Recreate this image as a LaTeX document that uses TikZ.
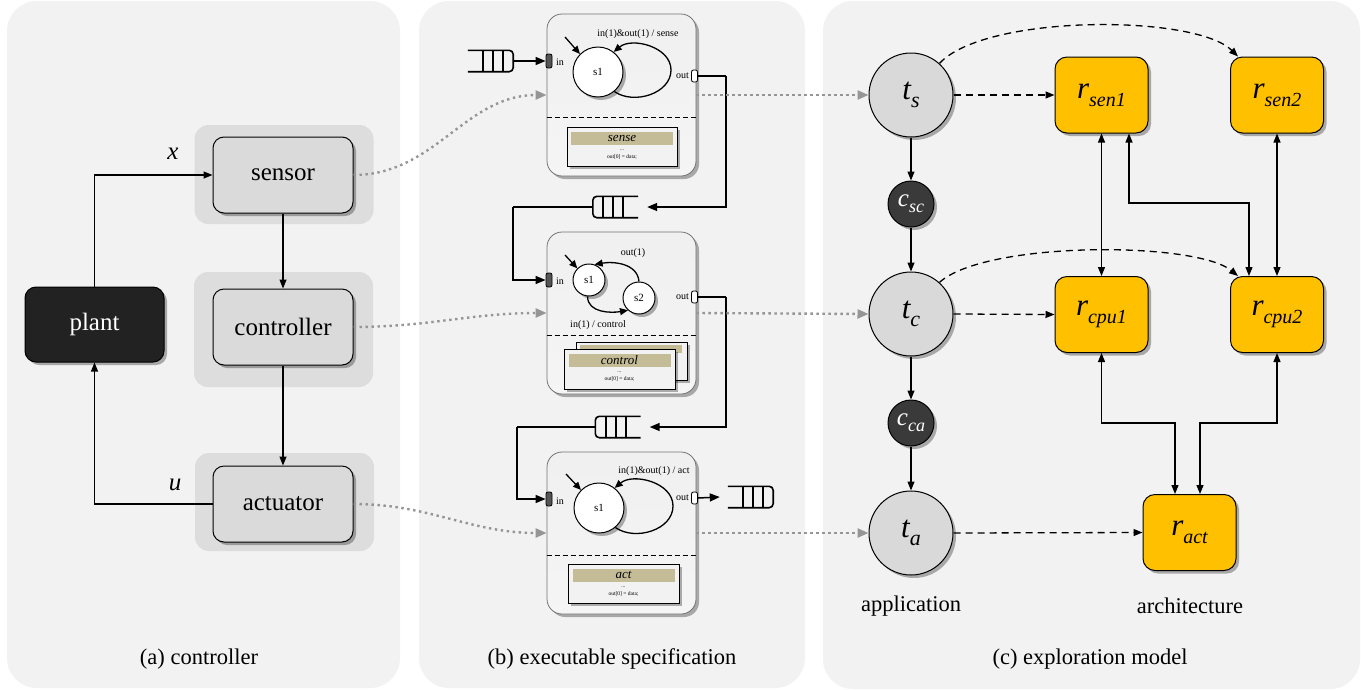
\documentclass[tikz,border=0pt]{standalone}
\usepackage{fontspec}
\setmainfont{Liberation Serif}
\usetikzlibrary{arrows.meta,shadows}
\definecolor{panelbg}{HTML}{F2F2F2}
\definecolor{grpbg}{HTML}{DDDDDD}
\definecolor{boxfill}{HTML}{DADADA}
\definecolor{plantfill}{HTML}{222222}
\definecolor{tfill}{HTML}{D9D9D9}
\definecolor{cfill}{HTML}{3A3A3A}
\definecolor{resfill}{HTML}{FFC000}
\definecolor{hdrtan}{HTML}{C4BC96}
\definecolor{dotgray}{HTML}{959595}
\definecolor{portdark}{HTML}{555555}
\newcommand{\setfs}[1]{\fontsize{#1}{#1}\selectfont}
\newcommand{\symsub}[5]{{\setfs{#3}\itshape #1}\raisebox{-#5}{\setfs{#4}\itshape #2}}
\tikzset{
  shd/.style={drop shadow={shadow xshift=3pt, shadow yshift=-3pt, opacity=.3, fill=black}},
  grp/.style={fill=grpbg, rounded corners=14pt, inner sep=0pt},
  blk/.style={draw=black, line width=1pt, fill=boxfill, rounded corners=11pt, minimum width=140pt, minimum height=76pt, inner sep=0pt, font=\setfs{25}, shd},
  plantbox/.style={blk, fill=plantfill, text=white},
  arr/.style={line width=1.1pt, -{Triangle[length=9pt,width=7pt]}},
  dotarr/.style={draw=dotgray, line width=2.4pt, dash pattern=on 2.4pt off 3.6pt, -{Triangle[length=11pt,width=9pt]}, dotgray},
  smbox/.style={draw=black!55, line width=.8pt, rounded corners=15pt, minimum width=149pt, minimum height=162pt, inner sep=0pt, top color=white!94!black, middle color=white!84!black, bottom color=white!96!black, shd},
  inport/.style={draw=black, line width=.8pt, fill=portdark, rounded corners=2pt, minimum width=6pt, minimum height=14pt, inner sep=0pt},
  outport/.style={draw=black, line width=.8pt, fill=white, rounded corners=2pt, minimum width=6pt, minimum height=12pt, inner sep=0pt},
  smalltxt/.style={font=\setfs{10}, inner sep=0pt},
  stbig/.style={circle, draw=black, line width=1pt, fill=white, minimum size=50pt, inner sep=0pt, font=\setfs{11}, shd},
  stsmall/.style={circle, draw=black, line width=1pt, fill=white, minimum size=32pt, inner sep=0pt, font=\setfs{11}, shd},
  starr/.style={line width=1.3pt, -{Triangle[length=8pt,width=7pt]}},
  qarr/.style={line width=1.5pt, -{Triangle[length=10pt,width=8pt]}},
  codebox/.style={draw=black, line width=1pt, fill=white!95!black, minimum width=110pt, minimum height=39pt, inner sep=0pt, shd},
  hdr/.style={fill=hdrtan, minimum width=102pt, minimum height=13pt, inner sep=0pt, font=\setfs{13}\itshape},
  tinytxt/.style={font=\setfs{5.5}, inner sep=0pt},
  tnode/.style={circle, draw=black, line width=1pt, fill=tfill, minimum size=84pt, inner sep=0pt, shd},
  cnode/.style={circle, draw=black, line width=1pt, fill=cfill, text=white, minimum size=46pt, inner sep=0pt, shd},
  res/.style={draw=black, line width=1pt, fill=resfill, rounded corners=12pt, minimum width=93pt, minimum height=76pt, inner sep=0pt, shd},
  dasharr/.style={line width=1.3pt, dash pattern=on 7pt off 5pt, -{Triangle[length=9pt,width=7pt]}},
  dblarr/.style={line width=1.2pt, {Triangle[length=9pt,width=7pt]}-{Triangle[length=9pt,width=7pt]}},
  captxt/.style={font=\setfs{22.5}, inner sep=0pt},
  qline/.style={line width=1.6pt},
  pics/queueL/.style={code={
    \node[minimum width=45pt, minimum height=21pt, inner sep=0pt] (-b) {};
    \draw[qline, rounded corners=4pt] (-b.north west) -- (-b.north east) -- (-b.south east) -- (-b.south west);
    \draw[qline] ([xshift=15pt]-b.north west) -- ([xshift=15pt]-b.south west);
    \draw[qline] ([xshift=25pt]-b.north west) -- ([xshift=25pt]-b.south west);
    \draw[qline] ([xshift=35pt]-b.north west) -- ([xshift=35pt]-b.south west);
  }},
  pics/queueR/.style={code={
    \node[minimum width=45pt, minimum height=21pt, inner sep=0pt] (-b) {};
    \draw[qline, rounded corners=4pt] (-b.north east) -- (-b.north west) -- (-b.south west) -- (-b.south east);
    \draw[qline] ([xshift=-15pt]-b.north east) -- ([xshift=-15pt]-b.south east);
    \draw[qline] ([xshift=-25pt]-b.north east) -- ([xshift=-25pt]-b.south east);
    \draw[qline] ([xshift=-35pt]-b.north east) -- ([xshift=-35pt]-b.south east);
  }},
}
\begin{document}
\begin{tikzpicture}[x=1pt,y=-1pt]
\path[use as bounding box, fill=white] (0,0) rectangle (1361,689);
% panels
\fill[panelbg, rounded corners=30pt] (7,1) rectangle (400,688);
\fill[panelbg, rounded corners=30pt] (419,1) rectangle (805,688);
\fill[panelbg, rounded corners=30pt] (823,1) rectangle (1360,689);

% ---------- panel (a)
\node[grp, minimum width=179pt, minimum height=99pt] (gsen) at (284,174.5) {};
\node[grp, minimum width=179pt, minimum height=115pt] (gcon) at (283.5,329.5) {};
\node[grp, minimum width=179pt, minimum height=98pt] (gact) at (284.5,502) {};
\node[blk] (sensor) at (283,175) {sensor};
\node[blk] (controller) at (283,327) {controller};
\node[blk] (actuator) at (283,504) {actuator};
\node[plantbox, minimum width=139pt, minimum height=75pt] (plant) at (94.5,324.5) {plant};
\draw[arr] (plant.north) |- (sensor.west);
\draw[arr] (actuator.west) -| (plant.south);
\draw[arr] (sensor.south) -- (controller.north);
\draw[arr] (controller.south) -- (actuator.north);
\node[font=\setfs{25}\itshape, inner sep=0pt] (lx) at (173,154) {x};
\node[font=\setfs{25}\itshape, inner sep=0pt] (lu) at (175,485) {u};
\node[captxt] (capa) at (199,659) {(a) controller};

% ---------- panel (b)
\node[smbox] (smA) at (621.5,95) {};
\node[smbox] (smB) at (621.5,313) {};
\node[smbox] (smC) at (621.5,533) {};
\foreach \b in {smA,smB,smC}{
  \draw[dash pattern=on 5pt off 3pt, line width=1.3pt] ([yshift=-104pt]\b.north west) -- ([yshift=-104pt]\b.north east);
}
% ports
\node[inport] (inA) at (549,61) {};
\node[smalltxt, anchor=west] (inAl) at (556,62) {in};
\node[outport] (outA) at (694.5,76) {};
\node[smalltxt, anchor=east] (outAl) at (689,76) {out};
\node[inport] (inB) at (549,280) {};
\node[smalltxt, anchor=west] (inBl) at (556,281) {in};
\node[outport] (outB) at (694.5,297) {};
\node[smalltxt, anchor=east] (outBl) at (689,297) {out};
\node[inport] (inC) at (549,499) {};
\node[smalltxt, anchor=west] (inCl) at (556,501) {in};
\node[outport] (outC) at (694.5,498) {};
\node[smalltxt, anchor=east] (outCl) at (689,498) {out};

% state machine A
\node[stbig] (sA) at (598,72) {s1};
\coordinate (iA) at (565,37);
\draw[starr] (iA) -- (sA.135);
\coordinate (lpA) at (671,70);
\draw[starr] (sA.-50) to[out=-35,in=-90] (lpA) to[out=90,in=40] (sA.52);
\node[smalltxt] (trA) at (638,34) {in(1)\&out(1) / sense};
\node[codebox] (cbA) at (622,146.5) {};
\node[hdr] (hA) at (622,138) {sense};
\node[tinytxt] (dA) at (622,150) {...};
\node[tinytxt] (oA) at (622,157) {out[0] = data;};

% state machine B
\node[stsmall] (sB1) at (589,280) {s1};
\node[stsmall] (sB2) at (639,298) {s2};
\coordinate (iB) at (565,255);
\draw[starr] (iB) -- (sB1.135);
\draw[starr] (sB2.north) to[out=95,in=10] (sB1.70);
\draw[starr] (sB1.-95) to[out=-90,in=190] (sB2.228);
\node[smalltxt] (trB1) at (633,253) {out(1)};
\node[smalltxt] (trB2) at (598,325) {in(1) / control};
\node[codebox, minimum width=111pt, minimum height=38pt] (cbB2) at (631.5,361) {};
\node[hdr, minimum height=8pt] (hB2) at (631,349) {};
\node[codebox, minimum width=111pt, minimum height=40pt] (cbB) at (619.5,369) {};
\node[hdr] (hB) at (619.5,360) {control};
\node[tinytxt] (dB) at (619.5,372) {...};
\node[tinytxt] (oB) at (619.5,379) {out[0] = data;};

% state machine C
\node[stbig] (sC) at (599,508) {s1};
\coordinate (iC) at (566,474);
\draw[starr] (iC) -- (sC.135);
\coordinate (lpC) at (673,506);
\draw[starr] (sC.-50) to[out=-35,in=-90] (lpC) to[out=90,in=40] (sC.52);
\node[smalltxt] (trC) at (654,471) {in(1)\&out(1) / act};
\node[codebox, minimum width=111pt] (cbC) at (623.5,583.5) {};
\node[hdr] (hC) at (623.5,575) {act};
\node[tinytxt] (dC) at (623.5,587) {...};
\node[tinytxt] (oC) at (623.5,594) {out[0] = data;};

% queues
\pic (q1) at (490.5,61) {queueL};
\pic (q2) at (615.5,207) {queueR};
\pic (q3) at (618,427) {queueR};
\pic (q4) at (750.5,497) {queueL};
\coordinate (jA) at (726,76);
\coordinate (jB) at (726,297);
\coordinate (kB) at (513,207);
\coordinate (kC) at (517,427);
\draw[qarr] (q1-b.east) -- (inA.west);
\draw[line width=1.5pt] (outA.east) -- (jA);
\draw[qarr] (jA) |- ([xshift=9pt]q2-b.east);
\draw[line width=1.5pt] (q2-b.west) -- (kB);
\draw[qarr] (kB) |- (inB.west);
\draw[line width=1.5pt] (outB.east) -- (jB);
\draw[qarr] (jB) |- ([xshift=9pt]q3-b.east);
\draw[line width=1.5pt] (q3-b.west) -- (kC);
\draw[qarr] (kC) |- (inC.west);
\draw[qarr] (outC.east) -- ([xshift=-8pt]q4-b.west);
\node[captxt] (capb) at (612,659) {(b) executable specification};

% ---------- panel (c)
\node[tnode] (ts) at (911,95) {\symsub{t}{s}{31}{22}{8pt}};
\node[cnode] (csc) at (911,204) {\symsub{c}{sc}{25}{18}{6pt}};
\node[tnode] (tc) at (911,314) {\symsub{t}{c}{31}{22}{8pt}};
\node[cnode] (cca) at (911,423) {\symsub{c}{ca}{25}{18}{6pt}};
\node[tnode] (ta) at (911,533) {\symsub{t}{a}{31}{22}{8pt}};
\node[res] (rsen1) at (1101.5,95) {\symsub{r}{sen1}{31}{20}{8pt}};
\node[res] (rsen2) at (1277,95) {\symsub{r}{sen2}{31}{20}{8pt}};
\node[res] (rcpu1) at (1101.5,314.5) {\symsub{r}{cpu1}{31}{20}{8pt}};
\node[res] (rcpu2) at (1277,314.5) {\symsub{r}{cpu2}{31}{20}{8pt}};
\node[res] (ract) at (1189.5,532.5) {\symsub{r}{act}{31}{20}{8pt}};

\draw[arr] (ts.south) -- (csc.north);
\draw[arr] (csc.south) -- (tc.north);
\draw[arr] (tc.south) -- (cca.north);
\draw[arr] (cca.south) -- (ta.north);

\draw[dasharr] (ts.east) -- (rsen1.west);
\draw[dasharr] (tc.east) -- (rcpu1.west);
\draw[dasharr] (ta.east) -- (ract.west);
\draw[dasharr] (ts.48) .. controls (985,14) and (1195,14) .. ([xshift=8pt]rsen2.north west);
\draw[dasharr] (tc.48) .. controls (985,241) and (1195,241) .. ([xshift=8pt]rcpu2.north west);

\coordinate (b1) at (1249,203);
\coordinate (b2) at (1175,423);
\coordinate (b3) at (1200,423);
\draw[dblarr] (rsen1.south) -- (rcpu1.north);
\draw[dblarr] ([xshift=27.5pt]rsen1.south) |- (b1) -- ([xshift=-28pt]rcpu2.north);
\draw[dblarr] (rsen2.south) -- (rcpu2.north);
\draw[dblarr] (rcpu1.south) |- (b2) -- ([xshift=-14.5pt]ract.north);
\draw[dblarr] (rcpu2.south) |- (b3) -- ([xshift=10.5pt]ract.north);

\node[captxt] (app) at (911,606) {application};
\node[captxt] (arch) at (1190,606) {architecture};
\node[captxt] (capc) at (1090,659) {(c) exploration model};

% dotted links
\draw[dotarr] (sensor.east) to[out=0,in=180] (smA.west);
\draw[dotarr] (controller.east) to[out=0,in=180] (smB.west);
\draw[dotarr] (actuator.east) to[out=0,in=180] (smC.west);
\draw[dotarr] (smA.east) -- (ts.west);
\draw[dotarr] (smB.east) -- (tc.west);
\draw[dotarr] (smC.east) -- (ta.west);
\end{tikzpicture}
\end{document}
